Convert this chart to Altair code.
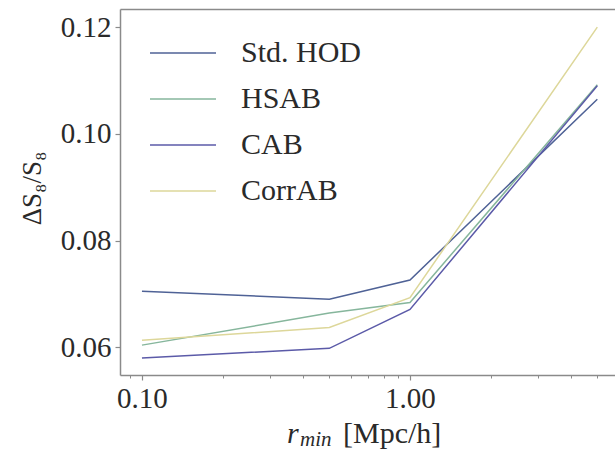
import altair as alt
import pandas as pd

# Minimum separation used in the fit (Mpc/h)
r_min = [0.1, 0.5, 1.0, 5.0]

# Fractional S8 uncertainty for each galaxy-halo model
std_hod = [0.0705, 0.0690, 0.0726, 0.1065]
hsab = [0.0604, 0.0664, 0.0684, 0.1092]
cab = [0.0580, 0.0598, 0.0671, 0.1090]
corrab = [0.0613, 0.0637, 0.0693, 0.1200]

series_names = ["Std. HOD", "HSAB", "CAB", "CorrAB"]
series_colors = ["#4f6296", "#86b69c", "#5b5aa8", "#ddd79a"]

major_x = [0.1, 1.0]
minor_x = [0.09, 0.2, 0.3, 0.4, 0.5, 0.6, 0.7, 0.8, 0.9, 2.0, 3.0, 4.0, 5.0]
y_ticks = [0.06, 0.08, 0.10, 0.12]

rows = []
for name, vals in zip(series_names, [std_hod, hsab, cab, corrab]):
    for r, v in zip(r_min, vals):
        rows.append({"r_min": r, "dS8": v, "model": name})
df = pd.DataFrame(rows)
one_row = pd.DataFrame({"k": [0]})

FONT = "Liberation Serif"
TXT = "#2a2a2a"
FRAME = "#8a8a8a"

x_scale = alt.Scale(type="log", domain=[0.0828, 5.82], nice=False)
y_scale = alt.Scale(domain=[0.0548, 0.1234], nice=False, zero=False)

lines = alt.Chart(df).mark_line(strokeWidth=1.5).encode(
    x=alt.X(
        "r_min:Q",
        scale=x_scale,
        axis=alt.Axis(
            values=major_x,
            labelExpr="format(datum.value, '.2f')",
            title=None,
            orient="bottom",
            grid=False,
            tickSize=5,
            tickColor=FRAME,
            tickWidth=1.2,
            domainColor=FRAME,
            domainWidth=1.5,
            labelFont=FONT,
            labelFontSize=29,
            labelColor=TXT,
            labelPadding=4,
            labelFlush=False,
        ),
    ),
    y=alt.Y(
        "dS8:Q",
        scale=y_scale,
        axis=alt.Axis(
            values=y_ticks,
            format=".2f",
            title="ΔS₈/S₈",
            titleFont=FONT,
            titleFontSize=27,
            titleFontWeight="normal",
            titleColor=TXT,
            titleX=-88,
            titleY=179,
            titleAngle=270,
            titleAlign="center",
            titleBaseline="middle",
            grid=False,
            tickSize=5,
            tickColor=FRAME,
            tickWidth=1.2,
            domainColor=FRAME,
            domainWidth=1.5,
            labelFont=FONT,
            labelFontSize=29,
            labelColor=TXT,
            labelPadding=4,
            labelFlush=False,
        ),
    ),
    color=alt.Color(
        "model:N",
        scale=alt.Scale(domain=series_names, range=series_colors),
        legend=alt.Legend(
            title=None,
            orient="none",
            legendX=45.5,
            legendY=26.5,
            # a horizontal stroke twice as long as the symbol's layout box
            symbolType="M-2,0H2",
            symbolSize=1089,
            symbolStrokeWidth=1.6,
            labelFont=FONT,
            labelFontSize=30,
            labelColor=TXT,
            labelOffset=40.5,
            labelLimit=300,
            rowPadding=13,
            padding=0,
        ),
    ),
)

# Minor log ticks along the bottom edge
minor = alt.Chart(df).mark_point(opacity=0).encode(
    x=alt.X(
        "r_min:Q",
        scale=x_scale,
        axis=alt.Axis(
            values=minor_x,
            labels=False,
            title=None,
            orient="bottom",
            grid=False,
            domain=False,
            tickSize=3,
            tickColor=FRAME,
            tickWidth=1,
        ),
    ),
)

# Top edge of the frame
top_edge = alt.Chart(df).mark_point(opacity=0).encode(
    x=alt.X(
        "r_min:Q",
        scale=x_scale,
        axis=alt.Axis(
            orient="top",
            labels=False,
            ticks=False,
            title=None,
            grid=False,
            domainColor=FRAME,
            domainWidth=1.5,
        ),
    ),
)

# x-axis label: italic r with "min" subscript, then the unit
xlab_r = alt.Chart(one_row).mark_text(
    font=FONT, fontSize=30, fontStyle="italic", color=TXT, align="left", baseline="alphabetic"
).encode(x=alt.value(167), y=alt.value(434), text=alt.value("r"))
xlab_min = alt.Chart(one_row).mark_text(
    font=FONT, fontSize=21, fontStyle="italic", color=TXT, align="left", baseline="alphabetic"
).encode(x=alt.value(180), y=alt.value(437), text=alt.value("min"))
xlab_unit = alt.Chart(one_row).mark_text(
    font=FONT, fontSize=30, color=TXT, align="left", baseline="alphabetic"
).encode(x=alt.value(223), y=alt.value(434), text=alt.value("[Mpc/h]"))

chart = (
    alt.layer(lines, minor, top_edge, xlab_r, xlab_min, xlab_unit)
    .resolve_axis(x="independent")
    .properties(
        width=495,
        height=366,
        autosize=alt.AutoSizeParams(type="none"),
        padding={"left": 120, "top": 9, "right": 0, "bottom": 77},
        background="white",
    )
    .configure_view(stroke=None)
)

chart.save("out.html", embed_options={"renderer": "svg", "actions": False})
